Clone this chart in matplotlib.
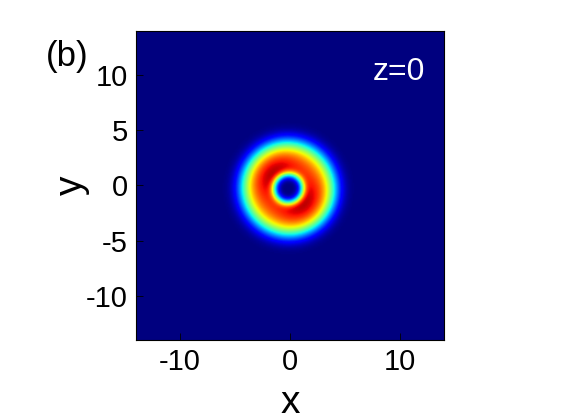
"""Vortex ring intensity |psi|^2 at z=0, panel (b)."""
import numpy as np
import matplotlib
matplotlib.use("Agg")
import matplotlib.pyplot as plt

plt.rcParams["font.family"] = ["Liberation Sans", "DejaVu Sans"]
plt.rcParams["axes.unicode_minus"] = False

# axis extent and ticks
x_lim = [-14, 14]
y_lim = [-14, 14]
x_ticks = [-10, 0, 10]
y_ticks = [-10, -5, 0, 5, 10]

# ring profile: core radius / order, outer radius / order
ring_center = [-0.15, -0.27]
core_radius, core_order = 1.40, 4.0
outer_radius, outer_order = 4.25, 5.0
peak_level = 0.98
lobe_depth = 0.10
lobe_angle = 135.0  # degrees, darker red lobes top-left / bottom-right
panel_label = "(b)"
z_label = "z=0"

n = 281
xs = np.linspace(x_lim[0], x_lim[1], n)
ys = np.linspace(y_lim[0], y_lim[1], n)
X, Y = np.meshgrid(xs, ys)
dx = X - ring_center[0]
dy = Y - ring_center[1]
r = np.hypot(dx, dy)
theta = np.arctan2(dy, dx)
amp = 1 - lobe_depth * (1 - np.cos(2 * (theta - np.radians(lobe_angle)))) / 2
core = 1 - np.exp(-(r / core_radius) ** core_order)
envelope = np.exp(-(r / outer_radius) ** outer_order)
I = peak_level * amp * core * envelope

fig = plt.figure(figsize=(5.61, 4.2), dpi=100)
ax = fig.add_axes([0.2424, 0.1905, 0.549, 0.7357])
ax.imshow(I, extent=[x_lim[0], x_lim[1], y_lim[0], y_lim[1]], origin="lower",
          cmap="jet", vmin=0, vmax=1, aspect="auto", interpolation="bilinear")
ax.set_xlim(x_lim)
ax.set_ylim(y_lim)
ax.set_xticks(x_ticks)
ax.set_yticks(y_ticks)
ax.tick_params(direction="in", labelsize=21, length=5, width=0.6, pad=6)
for s in ax.spines.values():
    s.set_linewidth(0.8)

ax.set_xlabel("x", fontsize=28, labelpad=6)
ax.set_ylabel("y", fontsize=28, labelpad=-3)
ax.text(0.854, 0.867, z_label, transform=ax.transAxes, color="white",
        fontsize=23, ha="center", va="center")
fig.text(0.119, 0.866, panel_label, fontsize=25, ha="center", va="center")

fig.savefig("out.png", dpi=100)
